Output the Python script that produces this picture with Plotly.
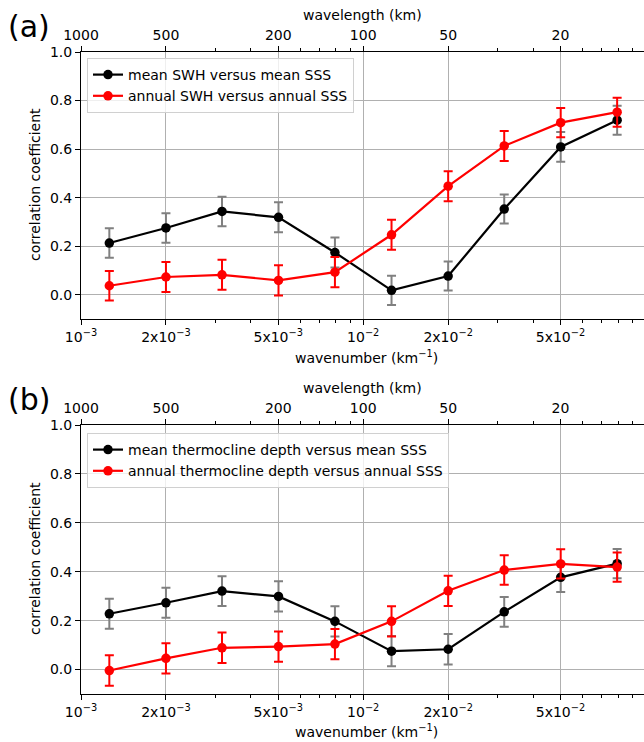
import plotly.graph_objects as go

# ---- data ----
wavenumber = [0.00126, 0.00200, 0.00316, 0.00501, 0.00794, 0.0126, 0.0200, 0.0316, 0.0501, 0.0794]

swh_mean = [0.213, 0.275, 0.343, 0.319, 0.174, 0.018, 0.077, 0.353, 0.609, 0.719]
swh_mean_err = [0.061, 0.061, 0.061, 0.062, 0.062, 0.060, 0.060, 0.060, 0.061, 0.060]
swh_annual = [0.037, 0.073, 0.082, 0.059, 0.093, 0.247, 0.447, 0.613, 0.709, 0.752]
swh_annual_err = [0.061, 0.062, 0.062, 0.062, 0.062, 0.062, 0.062, 0.062, 0.060, 0.060]

thermo_mean = [0.228, 0.273, 0.321, 0.299, 0.197, 0.075, 0.083, 0.236, 0.377, 0.433]
thermo_mean_err = [0.061, 0.061, 0.061, 0.062, 0.062, 0.062, 0.062, 0.061, 0.060, 0.060]
thermo_annual = [-0.004, 0.046, 0.089, 0.094, 0.104, 0.197, 0.322, 0.407, 0.432, 0.419]
thermo_annual_err = [0.062, 0.062, 0.062, 0.062, 0.062, 0.062, 0.062, 0.060, 0.060, 0.060]

k_major = [0.001, 0.002, 0.005, 0.01, 0.02, 0.05]
k_major_text = ["10<sup>−3</sup>", "2x10<sup>−3</sup>", "5x10<sup>−3</sup>",
                "10<sup>−2</sup>", "2x10<sup>−2</sup>", "5x10<sup>−2</sup>"]
k_minor = [0.003, 0.004, 0.006, 0.007, 0.008, 0.009, 0.03, 0.04, 0.06, 0.07, 0.08, 0.09]
wavelength_major = [1000, 500, 200, 100, 50, 20]
y_ticks = [0.0, 0.2, 0.4, 0.6, 0.8, 1.0]

W, H = 644, 742
L = 81
FONT = "DejaVu Sans"
FS = 14
XR = [-3, -1.005]

fig = go.Figure()

def add_series(y, err, name, color, errcolor, xa, ya, leg):
    fig.add_trace(go.Scatter(
        x=wavenumber, y=y, name=name, mode="lines+markers",
        line=dict(color=color, width=2.2),
        marker=dict(color=color, size=9.5),
        error_y=dict(type="data", array=err, color=errcolor, thickness=2, width=4.5),
        xaxis=xa, yaxis=ya, legend=leg))

add_series(swh_mean, swh_mean_err, "mean SWH versus mean SSS", "black", "#808080", "x", "y", "legend")
add_series(swh_annual, swh_annual_err, "annual SWH versus annual SSS", "#ff0000", "#ff0000", "x", "y", "legend")
add_series(thermo_mean, thermo_mean_err, "mean thermocline depth versus mean SSS", "black", "#808080", "x3", "y2", "legend2")
add_series(thermo_annual, thermo_annual_err, "annual thermocline depth versus annual SSS", "#ff0000", "#ff0000", "x3", "y2", "legend2")

# dummy traces for the top axes
for xa, ya in (("x2", "y"), ("x4", "y2")):
    fig.add_trace(go.Scatter(x=[0.001], y=[None], xaxis=xa, yaxis=ya, showlegend=False,
                             hoverinfo="skip", mode="markers"))

def yd(top, bot):
    return [1 - bot / H, 1 - top / H]

tickfont = dict(family=FONT, size=FS, color="black")
minor = dict(tickmode="array", tickvals=k_minor, ticks="outside", ticklen=3, tickcolor="black",
             tickwidth=1, showgrid=False)

def xbottom(anchor):
    return dict(type="log", range=XR, anchor=anchor, tickmode="array", tickvals=k_major,
                ticktext=k_major_text, ticks="outside", ticklen=5, tickcolor="black",
                showline=True, linecolor="black", linewidth=1, mirror=False,
                showgrid=True, gridcolor="#b0b0b0", gridwidth=1, zeroline=False,
                tickfont=tickfont, minor=minor, automargin=False)

def xtop(anchor, over):
    return dict(type="log", range=XR, anchor=anchor, overlaying=over, side="top",
                tickmode="array", tickvals=[1.0 / w for w in wavelength_major],
                ticktext=[str(w) for w in wavelength_major], ticks="outside", ticklen=5,
                tickcolor="black", showline=True, linecolor="black", linewidth=1,
                showgrid=False, zeroline=False, tickfont=tickfont, minor=minor, automargin=False)

def yax(dom, anchor):
    return dict(domain=dom, range=[-0.1, 1.0], anchor=anchor, tickmode="array", tickvals=y_ticks,
                ticktext=["%.1f" % v for v in y_ticks], ticks="outside", ticklen=5,
                tickcolor="black", showline=True, linecolor="black", linewidth=1, mirror=False,
                showgrid=True, gridcolor="#b0b0b0", gridwidth=1, zeroline=False,
                tickfont=tickfont, automargin=False)

legend_common = dict(xanchor="left", yanchor="top", bordercolor="#d0d0d0", borderwidth=1,
                     bgcolor="rgba(255,255,255,0.8)",
                     font=dict(family=FONT, size=FS, color="black"),
                     tracegroupgap=0, itemwidth=30)

fig.update_layout(
    width=W, height=H,
    margin=dict(l=L, r=0, t=0, b=0),
    paper_bgcolor="white", plot_bgcolor="white",
    font=dict(family=FONT, size=FS, color="black"),
    xaxis=xbottom("y"),
    xaxis2=xtop("y", "x"),
    xaxis3=xbottom("y2"),
    xaxis4=xtop("y2", "x3"),
    yaxis=yax(yd(52, 319), "x"),
    yaxis2=yax(yd(425, 694), "x3"),
    legend=dict(x=(87 - L) / (W - L), y=1 - 58 / H, **legend_common),
    legend2=dict(x=(87 - L) / (W - L), y=1 - 433 / H, **legend_common),
    showlegend=True,
)

def ann(text, px, py, size=FS, angle=0, xanchor="center"):
    fig.add_annotation(text=text, xref="paper", yref="paper",
                       x=(px - L) / (W - L), y=1 - py / H, showarrow=False,
                       xanchor=xanchor, yanchor="middle", textangle=angle,
                       font=dict(family=FONT, size=size, color="black"))

ann("(a)", 6, 26, size=30, xanchor="left")
ann("(b)", 6, 399, size=30, xanchor="left")
ann("wavelength (km)", 362, 15)
ann("wavelength (km)", 362, 388)
ann("wavenumber (km<sup>−1</sup>)", 366, 357)
ann("wavenumber (km<sup>−1</sup>)", 366, 731)
ann("correlation coefficient", 35, 185, angle=-90)
ann("correlation coefficient", 35, 559, angle=-90)

fig.write_html("out.html", config={"displayModeBar": False},
               post_script="document.body.style.margin='0';document.body.style.padding='0';")
